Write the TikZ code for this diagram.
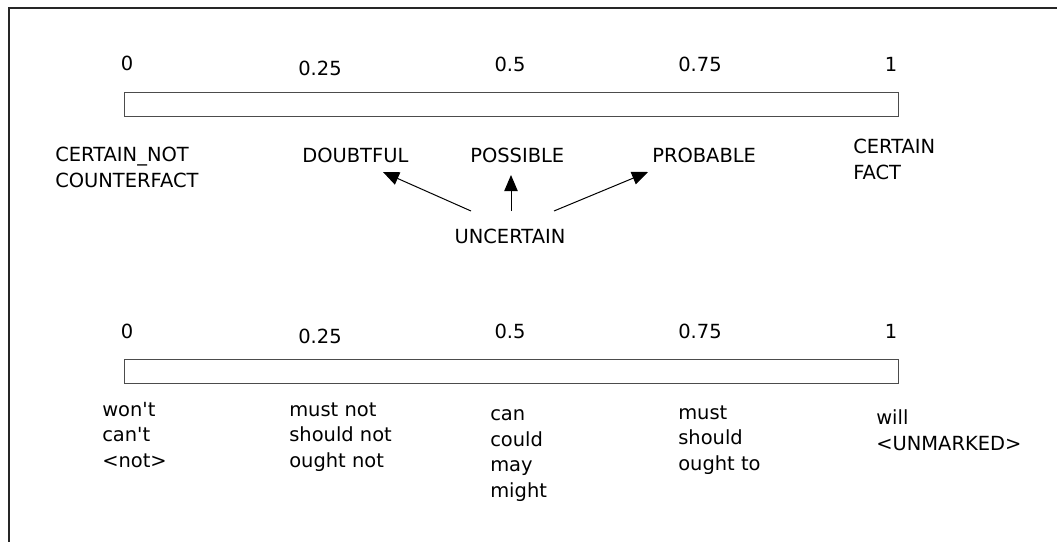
\documentclass[tikz,border=0pt]{standalone}
\usepackage{fontspec}
\setmainfont{DejaVu Sans}[Ligatures=TeXOff]
\usetikzlibrary{arrows.meta, positioning, calc}

\begin{document}
\begin{tikzpicture}[x=0.75pt, y=-0.75pt,
  every node/.style={inner sep=0pt, font=\fontsize{14.6pt}{19.1pt}\selectfont},
  lbl/.style={anchor=base west, align=left},
  numlbl/.style={anchor=base},
  scalebar/.style={draw=black!70, line width=0.75pt},
  arr/.style={-{Triangle[length=12pt, width=10pt]}, line width=0.75pt}]

\useasboundingbox (0,0) rectangle (1057,542);

% frame, only its top and left edges show
\draw[line width=1pt, black!85] (9,542) -- (9,8) -- (1057,8);

% Upper scale
\draw[scalebar] (124,93) rectangle (898,117);
\node[numlbl] (u0) at (127,71) {0};
\node[numlbl] (u25) at (320,76) {0.25};
\node[numlbl] (u50) at (510,72) {0.5};
\node[numlbl] (u75) at (700,72) {0.75};
\node[numlbl] (u100) at (891,72) {1};

% (base of a multi-line label = its last line)
\node[lbl] (cnot) at (55,187) {CERTAIN\_NOT\\COUNTERFACT};
\node[lbl] (doubt) at (302,162) {DOUBTFUL};
\node[lbl] (poss) at (470,162) {POSSIBLE};
\node[lbl] (prob) at (652,162) {PROBABLE};
\node[lbl] (cfact) at (853,179) {CERTAIN\\FACT};
\node[numlbl] (unc) at (510,243) {UNCERTAIN};

% Arrows out of UNCERTAIN
\draw[arr] ([shift={(-39,-32)}]unc.base) -- ([shift={(81,10)}]doubt.base west);
\draw[arr] ([shift={(1,-32)}]unc.base) -- ([shift={(41,13)}]poss.base west);
\draw[arr] ([shift={(44,-32)}]unc.base) -- ([shift={(-4,10)}]prob.base west);

% Lower scale
\draw[scalebar] (124,359) rectangle (898,383);
\node[numlbl] (l0) at (127,338) {0};
\node[numlbl] (l25) at (320,343) {0.25};
\node[numlbl] (l50) at (510,338) {0.5};
\node[numlbl] (l75) at (700,338) {0.75};
\node[numlbl] (l100) at (891,338) {1};

\node[lbl] (wont) at (102,467) {won't\\can't\\<not>};
\node[lbl] (mustnot) at (289,467) {must not\\should not\\ought not};
\node[lbl] (can) at (490,497) {can\\could\\may\\might};
\node[lbl] (must) at (678,470) {must\\should\\ought to};
\node[lbl] (will) at (876,450) {will\\<UNMARKED>};

\end{tikzpicture}
\end{document}
